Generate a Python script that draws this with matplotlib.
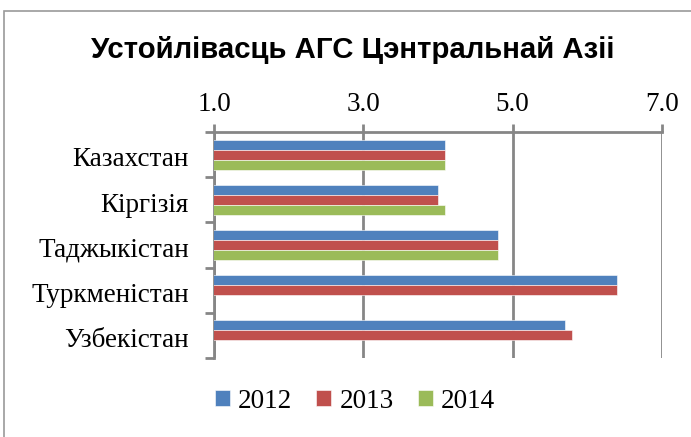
import numpy as np
import matplotlib.pyplot as plt
from matplotlib.patches import Rectangle

countries = ['Казахстан', 'Кіргізія', 'Таджыкістан', 'Туркменістан', 'Узбекістан']
years = ['2012', '2013', '2014']
v2012 = [4.1, 4.0, 4.8, 6.4, 5.7]
v2013 = [4.1, 4.0, 4.8, 6.4, 5.8]
v2014 = [4.1, 4.1, 4.8, np.nan, np.nan]
xticks = [1.0, 3.0, 5.0, 7.0]

colors = ['#4F81BD', '#C0504D', '#9BBB59']
grey = '#868686'
serif = 'Liberation Serif'

fig = plt.figure(figsize=(6.91, 4.37), dpi=100)
ax = fig.add_axes([214/691, 1 - 358/437, 448/691, 226/437])

# chart border (cropped on right/bottom in the reference)
fig.patches.append(Rectangle((4/691, -0.1), 1.2, 1 - 11/437 + 0.1,
                             transform=fig.transFigure, fill=False,
                             edgecolor='#9a9a9a', linewidth=1.2))

y = np.arange(len(countries))
h = 10/45
for i, vals in enumerate([v2012, v2013, v2014]):
    ax.barh(y + (i - 1) * h, vals, height=h, color=colors[i],
            edgecolor='white', linewidth=0.4, label=years[i], zorder=3)

ax.set_xlim(1, 7)
ax.set_ylim(4.5, -0.5)
ax.set_xticks(xticks)
ax.set_xticklabels(['%.1f' % t for t in xticks], fontfamily=serif, fontsize=19.5)
ax.xaxis.tick_top()
ax.tick_params(axis='x', direction='out', length=6, width=2, color=grey, pad=5)
ax.grid(axis='x', color=grey, linewidth=2, zorder=0)

ax.set_yticks(y + 0.05)
ax.set_yticklabels(countries, fontfamily=serif, fontsize=19.5)
ax.tick_params(axis='y', which='major', length=0, pad=18)
ax.set_yticks(np.arange(-0.5, 5, 1), minor=True)
ax.tick_params(axis='y', which='minor', direction='out', length=6.5, width=2, color=grey)

for s in ['bottom', 'right']:
    ax.spines[s].set_visible(False)
for s in ['top', 'left']:
    ax.spines[s].set_color(grey)
    ax.spines[s].set_linewidth(2)

fig.text(0.51, 1 - 50/437, 'Устойлівасць АГС Цэнтральнай Азіі',
         ha='center', va='center', fontsize=21.2, fontweight='bold',
         fontfamily='Liberation Sans')

ax.legend(loc='center', bbox_to_anchor=(355/691, 1 - 401/437),
          bbox_transform=fig.transFigure, ncol=3, frameon=False,
          prop={'family': serif, 'size': 19.5}, handlelength=0.55,
          handleheight=0.55, handletextpad=0.3, columnspacing=0.9)

fig.savefig('out.png', dpi=100)
